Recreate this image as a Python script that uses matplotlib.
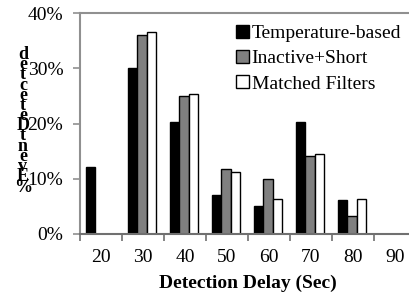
import numpy as np
from matplotlib import pyplot as plt
from matplotlib.ticker import FixedLocator, PercentFormatter

delays = ["20", "30", "40", "50", "60", "70", "80", "90"]
temperature = [12.2, 30.1, 20.2, 7.1, 5.1, 20.2, 6.1, 0]
inactive = [0, 36.1, 25.0, 11.7, 10.0, 14.1, 3.3, 0]
matched = [0, 36.5, 25.4, 11.2, 6.4, 14.4, 6.4, 0]
series = ["Temperature-based", "Inactive+Short", "Matched Filters"]
colors = ["black", "#808080", "white"]
ylabel_chars = "%EventDetected"

plt.rcParams["font.family"] = ["Liberation Serif", "DejaVu Serif"]

fig = plt.figure(figsize=(4.09, 2.93), dpi=100)
ax = fig.add_axes([80 / 409, 59 / 293, 336 / 409, 221 / 293])

x = np.arange(len(delays))
w = 0.226
for i, (vals, col, name) in enumerate(zip([temperature, inactive, matched], colors, series)):
    ax.bar(x + (i - 1) * w - 0.02, vals, w, color=col, edgecolor="black",
           linewidth=1.0, label=name)

ax.set_xlim(-0.5, len(delays) - 0.5)
ax.set_ylim(0, 40)
ax.set_yticks([0, 10, 20, 30, 40])
ax.yaxis.set_major_formatter(PercentFormatter(decimals=0))
ax.set_xticks(x)
ax.set_xticklabels(delays)
ax.xaxis.set_minor_locator(FixedLocator(np.arange(-0.5, len(delays), 1)))
ax.tick_params(axis="x", which="major", length=0, pad=11, labelsize=14)
ax.tick_params(axis="x", which="minor", length=5, width=1.2, color="#707070")
ax.tick_params(axis="y", length=5, width=1.2, color="#909090", labelsize=14, pad=7)

for s in ["left", "top"]:
    ax.spines[s].set_color("#909090")
    ax.spines[s].set_linewidth(1.5)
ax.spines["bottom"].set_color("#707070")
ax.spines["bottom"].set_linewidth(1.5)
ax.spines["right"].set_visible(False)

ax.set_xlabel("Detection Delay (Sec)", fontsize=14, fontweight="bold", labelpad=6)

# stacked, unrotated y label like the original
for k, ch in enumerate(ylabel_chars):
    fig.text(23 / 409, (293 - 187 + k * 10.2) / 293, ch, fontsize=13,
             fontweight="bold", ha="center", va="center")

ax.legend(loc="upper left", bbox_to_anchor=((236 - 80) / 336, 1 - 12 / 221),
          frameon=False, fontsize=14, handlelength=0.65, handleheight=0.65,
          handletextpad=0.15, labelspacing=0.4, borderaxespad=0, borderpad=0)

fig.savefig("out.png", dpi=100)
